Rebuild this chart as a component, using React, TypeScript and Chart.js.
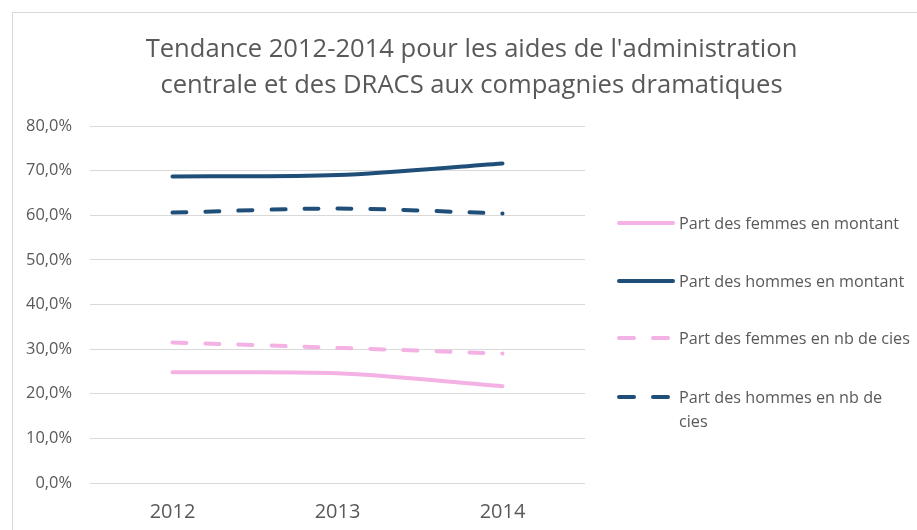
import React, { useEffect, useRef } from "react";
import { Chart, registerables } from "chart.js";

Chart.register(...registerables);

const TITLE_LINES = [
  "Tendance 2012-2014 pour les aides de l'administration",
  "centrale et des DRACS aux compagnies dramatiques",
];
const YEARS = ["2012", "2013", "2014"];
const SERIES_LABELS = [
  "Part des femmes en montant",
  "Part des hommes en montant",
  "Part des femmes en nb de cies",
  "Part des hommes en nb de cies",
];
const FEMMES_MONTANT = [24.8, 24.6, 21.7];
const HOMMES_MONTANT = [68.7, 69.0, 71.6];
const FEMMES_NB = [31.5, 30.3, 29.0];
const HOMMES_NB = [60.6, 61.5, 60.4];
const Y_MIN = 0;
const Y_MAX = 80;
const Y_STEP = 10;

const PINK = "#F4B1E3";
const NAVY = "#1F4E79";
const TEXT = "#595959";
const GRID = "#D9D9D9";
const FONT = "'Open Sans', sans-serif";

const SERIES = [
  { label: SERIES_LABELS[0], data: FEMMES_MONTANT, color: PINK, dashed: false },
  { label: SERIES_LABELS[1], data: HOMMES_MONTANT, color: NAVY, dashed: false },
  { label: SERIES_LABELS[2], data: FEMMES_NB, color: PINK, dashed: true },
  { label: SERIES_LABELS[3], data: HOMMES_NB, color: NAVY, dashed: true },
];

const LEGEND_TOPS = [223, 281, 338, 397];

export default function App() {
  const ref = useRef<HTMLCanvasElement | null>(null);

  useEffect(() => {
    if (!ref.current) return;
    const chart = new Chart(ref.current, {
      type: "line",
      data: {
        labels: YEARS,
        datasets: SERIES.map((s) => ({
          label: s.label,
          data: s.data,
          borderColor: s.color,
          backgroundColor: s.color,
          borderWidth: 4,
          borderDash: s.dashed ? [14, 19] : [],
          borderCapStyle: "round" as const,
          pointRadius: 0,
          pointHoverRadius: 0,
          tension: 0.3,
          fill: false,
        })),
      },
      options: {
        animation: false,
        responsive: false,
        maintainAspectRatio: false,
        layout: { padding: { left: 0, right: 332, top: 126, bottom: 0 } },
        plugins: {
          legend: { display: false },
          tooltip: { enabled: false },
          title: { display: false },
        },
        scales: {
          x: {
            type: "category",
            offset: true,
            grid: { display: false, drawTicks: false },
            border: { display: false },
            ticks: {
              color: TEXT,
              padding: 17,
              font: { family: FONT, size: 20 },
            },
            afterFit: (scale: any) => {
              scale.height = 47;
            },
          },
          y: {
            min: Y_MIN,
            max: Y_MAX,
            grid: { color: GRID, lineWidth: 1, drawTicks: false },
            border: { display: false },
            ticks: {
              stepSize: Y_STEP,
              color: TEXT,
              padding: 18,
              font: { family: FONT, size: 16.4 },
              callback: (v: any) => Number(v).toFixed(1).replace(".", ",") + "%",
            },
            afterFit: (scale: any) => {
              scale.width = 90;
            },
          },
        },
      },
    });
    return () => chart.destroy();
  }, []);

  return (
    <div
      style={{
        position: "absolute",
        left: 0,
        top: 0,
        width: 917,
        height: 530,
        overflow: "hidden",
        background: "#fff",
      }}
    >
      <div
        style={{
          position: "absolute",
          left: 12,
          top: 12,
          width: 1000,
          height: 600,
          border: `1px solid ${GRID}`,
        }}
      />
      <canvas
        ref={ref}
        width={917}
        height={530}
        style={{ position: "absolute", left: 0, top: 0, width: 917, height: 530 }}
      />
      <div
        style={{
          position: "absolute",
          left: 0,
          top: 30,
          width: 943,
          textAlign: "center",
          fontFamily: FONT,
          fontSize: 25.6,
          lineHeight: "36px",
          color: TEXT,
          whiteSpace: "nowrap",
        }}
      >
        {TITLE_LINES.map((t) => (
          <div key={t}>{t}</div>
        ))}
      </div>
      {SERIES.map((s, i) => (
        <div
          key={s.label}
          style={{
            position: "absolute",
            left: 617,
            top: LEGEND_TOPS[i] - 12,
            width: 300,
            display: "flex",
            alignItems: "flex-start",
            fontFamily: FONT,
            fontSize: 16.2,
            lineHeight: "24px",
            color: TEXT,
          }}
        >
          <svg width={58} height={24} style={{ flex: "none" }}>
            <line
              x1={2}
              y1={12}
              x2={56}
              y2={12}
              stroke={s.color}
              strokeWidth={4}
              strokeLinecap="round"
              strokeDasharray={s.dashed ? "15 19" : undefined}
            />
          </svg>
          <span style={{ marginLeft: 4, width: 232 }}>{s.label}</span>
        </div>
      ))}
    </div>
  );
}
